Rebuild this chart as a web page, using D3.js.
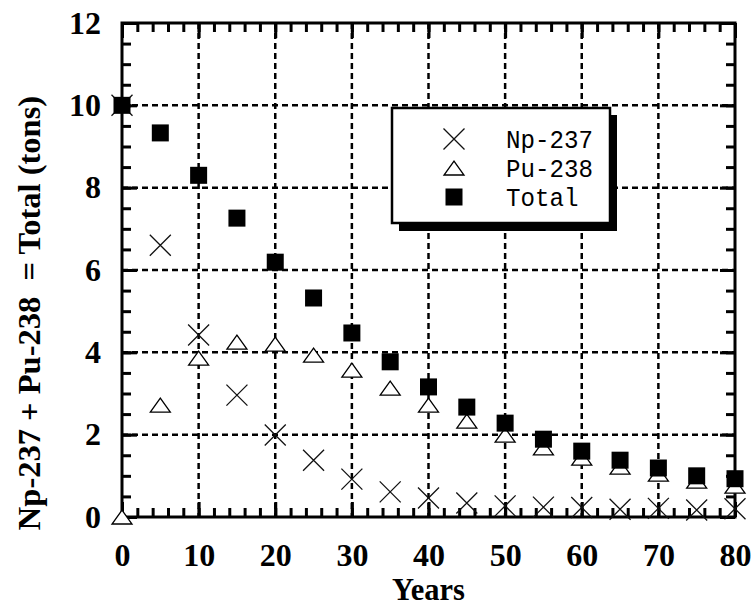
<!DOCTYPE html>
<html>
    <head>
        <title>Np-237 + Pu-238</title>
        <meta charset="utf-8">
        <script src="https://d3js.org/d3.v7.min.js"></script>
        <style>
            body { margin: 0; background: #fff; }
            svg { display: block; }
            .tick_label { font-family: "Liberation Serif", "Times New Roman", serif; font-weight: bold; font-size: 32px; fill: #000; }
            .legend_text { font-family: "Liberation Mono", "Courier New", monospace; font-size: 25.5px; fill: #000; }
        </style>
    </head>
    <body>
        <div id="container"></div>
        <script>
            // Data
            const years = [0, 5, 10, 15, 20, 25, 30, 35, 40, 45, 50, 55, 60, 65, 70, 75, 80]
            const np237 = [10, 6.6, 4.42, 2.96, 1.99, 1.38, 0.92, 0.61, 0.46, 0.34, 0.27, 0.24, 0.23, 0.19, 0.21, 0.17, 0.2]
            const pu238 = [0, 2.72, 3.86, 4.25, 4.2, 3.93, 3.57, 3.13, 2.72, 2.33, 1.99, 1.68, 1.43, 1.21, 1.04, 0.87, 0.75]
            const total = [10, 9.33, 8.3, 7.26, 6.19, 5.32, 4.47, 3.77, 3.16, 2.67, 2.28, 1.89, 1.6, 1.38, 1.19, 1.0, 0.93]
            const xTicks = [0, 10, 20, 30, 40, 50, 60, 70, 80]
            const yTicks = [0, 2, 4, 6, 8, 10, 12]
            const legendLabels = ["Np-237", "Pu-238", "Total"]

            // Variables
            const w = 753
            const h = 607
            const plotLeft = 122
            const plotRight = 735
            const plotTop = 23
            const plotBottom = 517

            // Scales
            const xScale = d3.scaleLinear().domain([0, 80]).range([plotLeft, plotRight])
            const yScale = d3.scaleLinear().domain([0, 12]).range([plotBottom, plotTop])

            const svg = d3.select("#container")
                .append("svg")
                .attr("width", w)
                .attr("height", h)

            // Grid
            const grid = svg.append("g")
                .attr("stroke", "#000")
                .attr("stroke-width", 2.5)
                .attr("stroke-dasharray", "6,4")
            grid.selectAll(".vgrid")
                .data(xTicks.slice(1, -1))
                .enter()
                .append("line")
                .attr("x1", d => xScale(d))
                .attr("x2", d => xScale(d))
                .attr("y1", plotTop)
                .attr("y2", plotBottom)
            grid.selectAll(".hgrid")
                .data(yTicks.slice(1, -1))
                .enter()
                .append("line")
                .attr("x1", plotLeft)
                .attr("x2", plotRight)
                .attr("y1", d => yScale(d))
                .attr("y2", d => yScale(d))

            // Inward ticks on all four sides
            const minorX = d3.range(0, 81, 2)
            const minorY = d3.range(0, 12.01, 0.5)
            const addTicks = (axis, transform) => {
                const g = svg.append("g")
                    .attr("transform", transform)
                    .call(axis)
                g.select(".domain").remove()
                g.selectAll(".tick line").attr("stroke", "#000").attr("stroke-width", 3)
                g.selectAll(".tick text").remove()
            }
            addTicks(d3.axisTop(xScale).tickValues(minorX).tickSize(9), `translate(0,${plotBottom})`)
            addTicks(d3.axisTop(xScale).tickValues(xTicks).tickSize(15), `translate(0,${plotBottom})`)
            addTicks(d3.axisBottom(xScale).tickValues(minorX).tickSize(9), `translate(0,${plotTop})`)
            addTicks(d3.axisBottom(xScale).tickValues(xTicks).tickSize(15), `translate(0,${plotTop})`)
            addTicks(d3.axisRight(yScale).tickValues(minorY).tickSize(9), `translate(${plotLeft},0)`)
            addTicks(d3.axisRight(yScale).tickValues(yTicks).tickSize(15), `translate(${plotLeft},0)`)
            addTicks(d3.axisLeft(yScale).tickValues(minorY).tickSize(9), `translate(${plotRight},0)`)
            addTicks(d3.axisLeft(yScale).tickValues(yTicks).tickSize(15), `translate(${plotRight},0)`)

            // Frame
            svg.append("rect")
                .attr("x", plotLeft)
                .attr("y", plotTop)
                .attr("width", plotRight - plotLeft)
                .attr("height", plotBottom - plotTop)
                .attr("fill", "none")
                .attr("stroke", "#000")
                .attr("stroke-width", 3)

            // Axis labels
            const xAxis = svg.append("g")
                .attr("transform", `translate(0,${plotBottom})`)
                .call(d3.axisBottom(xScale).tickValues(xTicks).tickSize(0).tickPadding(26))
            xAxis.select(".domain").remove()

            const yAxis = svg.append("g")
                .attr("transform", `translate(${plotLeft},0)`)
                .call(d3.axisLeft(yScale).tickValues(yTicks).tickSize(0).tickPadding(21))
            yAxis.select(".domain").remove()

            xAxis.attr("font-size", null).attr("font-family", null)
            yAxis.attr("font-size", null).attr("font-family", null)
            xAxis.selectAll("text").attr("class", "tick_label")
            yAxis.selectAll("text").attr("class", "tick_label")

            svg.append("text")
                .attr("class", "tick_label")
                .attr("x", (plotLeft + plotRight) / 2)
                .attr("y", 600)
                .attr("text-anchor", "middle")
                .style("font-size", "30.5px")
                .text("Years")

            svg.append("text")
                .attr("class", "tick_label")
                .attr("transform", "translate(40,313) rotate(-90)")
                .attr("text-anchor", "middle")
                .style("font-size", "32.5px")
                .style("white-space", "pre")
                .text("Np-237 + Pu-238  = Total (tons)")

            // Symbols
            const crossPath = (cx, cy, r) => `M${cx - r},${cy - r}L${cx + r},${cy + r}M${cx - r},${cy + r}L${cx + r},${cy - r}`
            const triPath = (cx, cy) => `M${cx - 10},${cy + 7}L${cx + 10},${cy + 7}L${cx},${cy - 7}Z`

            const points = years.map((y, i) => ({year: y, np: np237[i], pu: pu238[i], total: total[i]}))

            svg.selectAll(".np")
                .data(points)
                .enter()
                .append("path")
                .attr("class", "np")
                .attr("d", d => crossPath(xScale(d.year), yScale(d.np), 10.5))
                .attr("stroke", "#111")
                .attr("stroke-width", 1.3)
                .attr("fill", "none")

            svg.selectAll(".pu")
                .data(points)
                .enter()
                .append("path")
                .attr("class", "pu")
                .attr("d", d => triPath(xScale(d.year), yScale(d.pu)))
                .attr("stroke", "#000")
                .attr("stroke-width", 1.3)
                .attr("fill", "#fff")

            svg.selectAll(".total")
                .data(points)
                .enter()
                .append("rect")
                .attr("class", "total")
                .attr("x", d => xScale(d.year) - 8.5)
                .attr("y", d => yScale(d.total) - 8.5)
                .attr("width", 17)
                .attr("height", 17)
                .attr("fill", "#000")

            // Legend
            const legend = svg.append("g")
            legend.append("rect")
                .attr("x", 399)
                .attr("y", 115)
                .attr("width", 218)
                .attr("height", 116)
                .attr("fill", "#000")
            legend.append("rect")
                .attr("x", 392)
                .attr("y", 108)
                .attr("width", 218)
                .attr("height", 115)
                .attr("fill", "#fff")
                .attr("stroke", "#000")
                .attr("stroke-width", 2.5)

            const rowY = [139, 168, 197]
            legend.append("path")
                .attr("d", crossPath(454, rowY[0], 10.5))
                .attr("stroke", "#111")
                .attr("stroke-width", 1.3)
                .attr("fill", "none")
            legend.append("path")
                .attr("d", triPath(454, rowY[1]))
                .attr("stroke", "#000")
                .attr("stroke-width", 1.3)
                .attr("fill", "#fff")
            legend.append("rect")
                .attr("x", 454 - 8.5)
                .attr("y", rowY[2] - 8.5)
                .attr("width", 17)
                .attr("height", 17)
                .attr("fill", "#000")

            legend.selectAll(".legend_text")
                .data(legendLabels)
                .enter()
                .append("text")
                .attr("class", "legend_text")
                .attr("x", 506)
                .attr("y", (d, i) => rowY[i] + 9)
                .attr("textLength", d => d.length * 14.5)
                .attr("lengthAdjust", "spacingAndGlyphs")
                .text(d => d)
        </script>
    </body>
</html>
